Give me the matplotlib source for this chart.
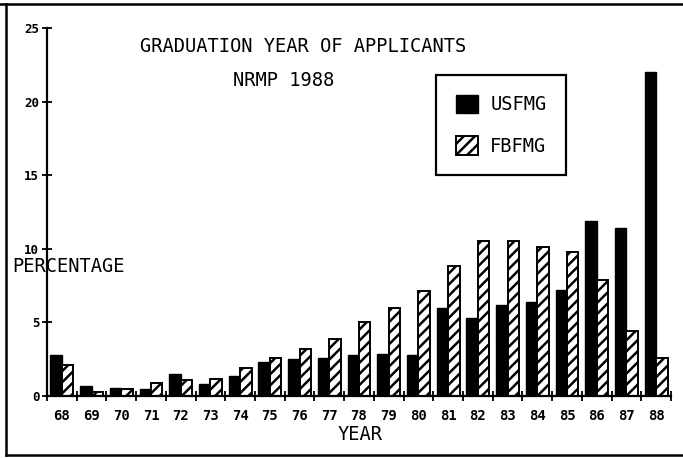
import numpy as np
import matplotlib
matplotlib.use("Agg")
import matplotlib.pyplot as plt
import matplotlib.patches as mpatches
from matplotlib.lines import Line2D

# ============================================================
# DADOS (percentagem por ano de graduação)
# ============================================================

years = ["68", "69", "70", "71", "72", "73", "74", "75", "76", "77", "78",
         "79", "80", "81", "82", "83", "84", "85", "86", "87", "88"]

usfmg = [2.8, 0.65, 0.56, 0.45, 1.5, 0.81, 1.39, 2.3, 2.52, 2.57, 2.77,
         2.88, 2.77, 5.95, 5.3, 6.15, 6.37, 7.2, 11.9, 11.4, 22.0]

fbfmg = [2.1, 0.27, 0.45, 0.88, 1.08, 1.17, 1.89, 2.6, 3.2, 3.9, 5.04,
         5.99, 7.1, 8.8, 10.5, 10.5, 10.1, 9.75, 7.9, 4.4, 2.55]

y_ticks = [0, 5, 10, 15, 20, 25]

FONT = "DejaVu Sans Mono"
W, H = 683, 458

plt.rcParams["hatch.linewidth"] = 1.8
plt.rcParams["font.family"] = FONT

fig = plt.figure(figsize=(W / 100, H / 100), dpi=100)
fig.patch.set_facecolor("white")

# eixo: x 47..671 px, y 396 (0) .. 28 (25)
ax = fig.add_axes([47 / W, 1 - 396 / H, (671 - 47) / W, (396 - 28) / H])
ax.set_facecolor("white")

x = np.arange(len(years))
bw = 0.385

ax.bar(x - bw / 2, usfmg, width=bw, color="black", edgecolor="black",
       linewidth=1.0)
ax.bar(x + bw / 2, fbfmg, width=bw, color="white", edgecolor="black",
       linewidth=1.4, hatch="///")

ax.set_xlim(-0.5, len(years) - 0.5)
ax.set_ylim(0, 25)

ax.set_yticks(y_ticks)
ax.set_yticklabels([str(v) for v in y_ticks], fontsize=9, fontweight="bold")
ax.tick_params(axis="y", direction="inout", length=7, width=1.3, pad=2)

ax.set_xticks(x)
ax.set_xticklabels(years, fontsize=10, fontweight="bold")
ax.tick_params(axis="x", which="major", length=0, pad=9)
ax.set_xticks(np.arange(len(years) + 1) - 0.5, minor=True)
ax.tick_params(axis="x", which="minor", direction="inout", length=7, width=1.3)

for s in ["top", "right"]:
    ax.spines[s].set_visible(False)
for s in ["left", "bottom"]:
    ax.spines[s].set_linewidth(1.6)

# --------------------------------------------------------
# Textos
# --------------------------------------------------------

fig.text(303 / W, 1 - 47 / H, "GRADUATION YEAR OF APPLICANTS",
         fontsize=13.5, ha="center", va="center")
fig.text(284 / W, 1 - 81 / H, "NRMP 1988",
         fontsize=13.5, ha="center", va="center")
fig.text(12 / W, 1 - 266 / H, "PERCENTAGE",
         fontsize=13.5, ha="left", va="center")
fig.text(360 / W, 1 - 435 / H, "YEAR",
         fontsize=13.5, ha="center", va="center")

# --------------------------------------------------------
# Legenda
# --------------------------------------------------------

handles = [
    mpatches.Patch(facecolor="black", edgecolor="black", label="USFMG"),
    mpatches.Patch(facecolor="white", edgecolor="black", hatch="///",
                   linewidth=1.4, label="FBFMG"),
]
leg = fig.legend(
    handles=handles,
    loc="upper left",
    bbox_to_anchor=(436 / W, 1 - 75 / H),
    bbox_transform=fig.transFigure,
    fontsize=13.5,
    frameon=True,
    fancybox=False,
    framealpha=1,
    edgecolor="black",
    handlelength=1.2,
    handleheight=1.15,
    handletextpad=0.65,
    labelspacing=1.15,
    borderpad=1.05,
    borderaxespad=0,
)
leg.get_frame().set_linewidth(1.6)

# --------------------------------------------------------
# Moldura exterior (topo, esquerda, baixo)
# --------------------------------------------------------

for xs, ys in [([0, 1], [1 - 4 / H] * 2),
               ([6 / W] * 2, [1 - 4 / H, 1 - 455 / H]),
               ([6 / W, 1], [1 - 455 / H] * 2)]:
    fig.add_artist(Line2D(xs, ys, transform=fig.transFigure,
                          color="black", linewidth=1.8))

plt.savefig("out.png", dpi=100, facecolor="white")
